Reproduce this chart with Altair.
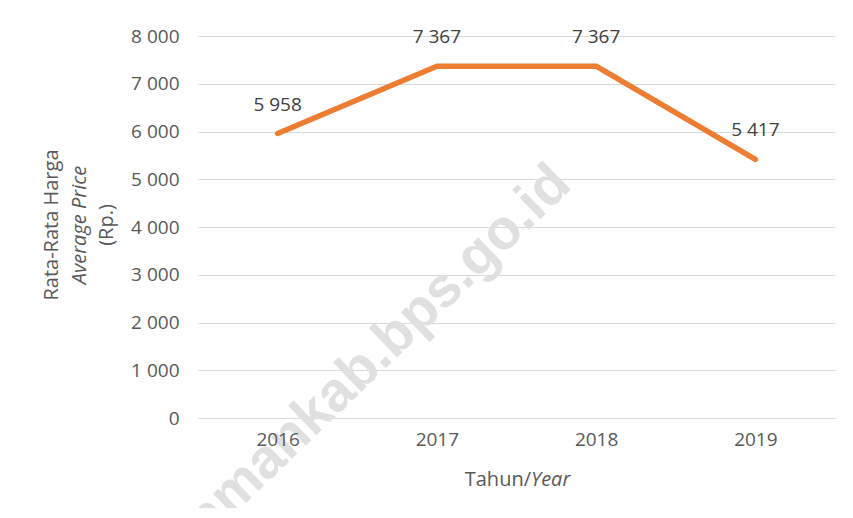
import altair as alt
import pandas as pd

years = ["2016", "2017", "2018", "2019"]
prices = [5958, 7367, 7367, 5417]
y_ticks = [0, 1000, 2000, 3000, 4000, 5000, 6000, 7000, 8000]
y_title_lines = ["Rata-Rata Harga", "Average Price", "(Rp.)"]
x_title_parts = ["Tahun/", "Year"]
watermark = "amankab.bps.go.id"

df = pd.DataFrame({"year": years, "price": prices})
df["label"] = [f"{v:,}".replace(",", " ") for v in prices]

FONT = "Open Sans"
GREY = "#595959"
W, H = 637, 382
xscale = alt.Scale(type="point", padding=0.5)

x_enc = alt.X("year:N", sort=years, title=None, scale=xscale,
              axis=alt.Axis(labelAngle=0, labelFontSize=19, labelColor=GREY, labelFont=FONT,
                            ticks=False, domain=False, labelPadding=12, grid=False, zindex=1))
y_enc = alt.Y("price:Q", title=None,
              scale=alt.Scale(domain=[0, 8000], nice=False),
              axis=alt.Axis(values=y_ticks, labelFontSize=19, labelColor=GREY, labelFont=FONT,
                            ticks=False, domain=False, labelPadding=19,
                            gridColor="#d9d9d9", gridWidth=1.2,
                            labelExpr="replace(format(datum.value, ','), ',', ' ')"))

base = alt.Chart(df)

wm = alt.Chart(pd.DataFrame({"t": [watermark]})).mark_text(
    font="Liberation Sans", fontWeight="bold", fontSize=56, angle=316,
    color="#e0e0e0", align="center", baseline="middle"
).encode(text="t:N", x=alt.value(181), y=alt.value(315))

line = base.mark_line(color="#ED7D31", strokeWidth=5.5, strokeCap="round", strokeJoin="round").encode(
    x=x_enc, y=y_enc)

labels = base.mark_text(font=FONT, fontSize=19, color="#404040", dy=-29, baseline="middle").encode(
    x=alt.X("year:N", sort=years, scale=xscale),
    y="price:Q", text="label:N")

ytitle_df = pd.DataFrame({
    "t": y_title_lines,
    "xp": [-146, -118, -91],
    "style": ["normal", "italic", "normal"],
})
ytitles = []
for i, row in ytitle_df.iterrows():
    ytitles.append(alt.Chart(pd.DataFrame({"t": [row["t"]]})).mark_text(
        font=FONT, fontSize=20, color=GREY, angle=270, fontStyle=row["style"],
        align="center", baseline="middle"
    ).encode(text="t:N", x=alt.value(row["xp"]), y=alt.value(H / 2 - 2)))

xt1 = alt.Chart(pd.DataFrame({"t": [x_title_parts[0]]})).mark_text(
    font=FONT, fontSize=20, color=GREY, align="right", baseline="middle"
).encode(text="t:N", x=alt.value(333), y=alt.value(444))
xt2 = alt.Chart(pd.DataFrame({"t": [x_title_parts[1]]})).mark_text(
    font=FONT, fontSize=20, color=GREY, align="left", baseline="middle", fontStyle="italic"
).encode(text="t:N", x=alt.value(333), y=alt.value(444))

chart = alt.layer(wm, line, labels, *ytitles, xt1, xt2).properties(
    width=W, height=H,
    background="white",
    autosize=alt.AutoSizeParams(type="none"),
    padding={"left": 190, "top": 28, "right": 10, "bottom": 90},
).configure_view(stroke=None)

chart.save("out.html", embed_options={"renderer": "svg", "actions": False})
